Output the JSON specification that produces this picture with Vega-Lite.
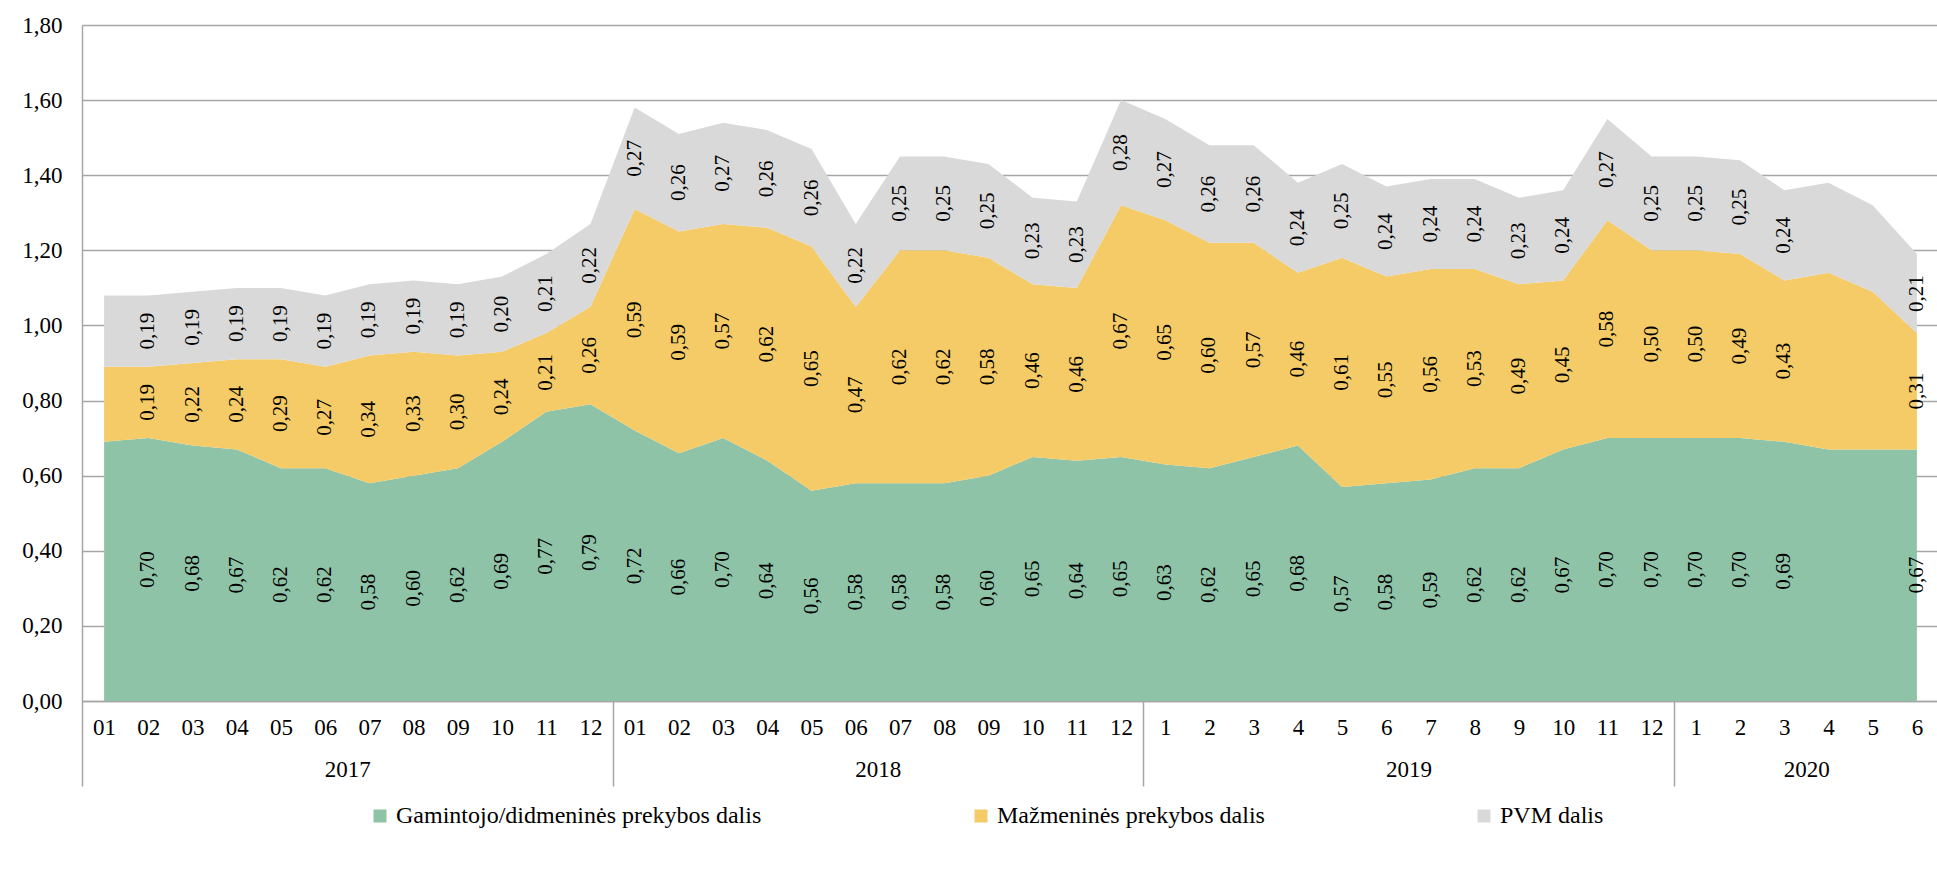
{
  "$schema": "https://vega.github.io/schema/vega-lite/v6.json",
  "width": 1857,
  "height": 676,
  "padding": {"left": 21, "top": 14, "right": 0, "bottom": 0},
  "background": "#ffffff",
  "config": {
    "font": "Liberation Serif",
    "view": {"stroke": null},
    "locale": {"number": {"decimal": ",", "thousands": " ", "grouping": [3], "currency": ["", " €"]}}
  },
  "data": {
    "values": [
      {"i": 0, "Gamintojo/didmeninės prekybos dalis": 0.69, "Mažmeninės prekybos dalis": 0.20, "PVM dalis": 0.19},
      {"i": 1, "Gamintojo/didmeninės prekybos dalis": 0.70, "Mažmeninės prekybos dalis": 0.19, "PVM dalis": 0.19},
      {"i": 2, "Gamintojo/didmeninės prekybos dalis": 0.68, "Mažmeninės prekybos dalis": 0.22, "PVM dalis": 0.19},
      {"i": 3, "Gamintojo/didmeninės prekybos dalis": 0.67, "Mažmeninės prekybos dalis": 0.24, "PVM dalis": 0.19},
      {"i": 4, "Gamintojo/didmeninės prekybos dalis": 0.62, "Mažmeninės prekybos dalis": 0.29, "PVM dalis": 0.19},
      {"i": 5, "Gamintojo/didmeninės prekybos dalis": 0.62, "Mažmeninės prekybos dalis": 0.27, "PVM dalis": 0.19},
      {"i": 6, "Gamintojo/didmeninės prekybos dalis": 0.58, "Mažmeninės prekybos dalis": 0.34, "PVM dalis": 0.19},
      {"i": 7, "Gamintojo/didmeninės prekybos dalis": 0.60, "Mažmeninės prekybos dalis": 0.33, "PVM dalis": 0.19},
      {"i": 8, "Gamintojo/didmeninės prekybos dalis": 0.62, "Mažmeninės prekybos dalis": 0.30, "PVM dalis": 0.19},
      {"i": 9, "Gamintojo/didmeninės prekybos dalis": 0.69, "Mažmeninės prekybos dalis": 0.24, "PVM dalis": 0.20},
      {"i": 10, "Gamintojo/didmeninės prekybos dalis": 0.77, "Mažmeninės prekybos dalis": 0.21, "PVM dalis": 0.21},
      {"i": 11, "Gamintojo/didmeninės prekybos dalis": 0.79, "Mažmeninės prekybos dalis": 0.26, "PVM dalis": 0.22},
      {"i": 12, "Gamintojo/didmeninės prekybos dalis": 0.72, "Mažmeninės prekybos dalis": 0.59, "PVM dalis": 0.27},
      {"i": 13, "Gamintojo/didmeninės prekybos dalis": 0.66, "Mažmeninės prekybos dalis": 0.59, "PVM dalis": 0.26},
      {"i": 14, "Gamintojo/didmeninės prekybos dalis": 0.70, "Mažmeninės prekybos dalis": 0.57, "PVM dalis": 0.27},
      {"i": 15, "Gamintojo/didmeninės prekybos dalis": 0.64, "Mažmeninės prekybos dalis": 0.62, "PVM dalis": 0.26},
      {"i": 16, "Gamintojo/didmeninės prekybos dalis": 0.56, "Mažmeninės prekybos dalis": 0.65, "PVM dalis": 0.26},
      {"i": 17, "Gamintojo/didmeninės prekybos dalis": 0.58, "Mažmeninės prekybos dalis": 0.47, "PVM dalis": 0.22},
      {"i": 18, "Gamintojo/didmeninės prekybos dalis": 0.58, "Mažmeninės prekybos dalis": 0.62, "PVM dalis": 0.25},
      {"i": 19, "Gamintojo/didmeninės prekybos dalis": 0.58, "Mažmeninės prekybos dalis": 0.62, "PVM dalis": 0.25},
      {"i": 20, "Gamintojo/didmeninės prekybos dalis": 0.60, "Mažmeninės prekybos dalis": 0.58, "PVM dalis": 0.25},
      {"i": 21, "Gamintojo/didmeninės prekybos dalis": 0.65, "Mažmeninės prekybos dalis": 0.46, "PVM dalis": 0.23},
      {"i": 22, "Gamintojo/didmeninės prekybos dalis": 0.64, "Mažmeninės prekybos dalis": 0.46, "PVM dalis": 0.23},
      {"i": 23, "Gamintojo/didmeninės prekybos dalis": 0.65, "Mažmeninės prekybos dalis": 0.67, "PVM dalis": 0.28},
      {"i": 24, "Gamintojo/didmeninės prekybos dalis": 0.63, "Mažmeninės prekybos dalis": 0.65, "PVM dalis": 0.27},
      {"i": 25, "Gamintojo/didmeninės prekybos dalis": 0.62, "Mažmeninės prekybos dalis": 0.60, "PVM dalis": 0.26},
      {"i": 26, "Gamintojo/didmeninės prekybos dalis": 0.65, "Mažmeninės prekybos dalis": 0.57, "PVM dalis": 0.26},
      {"i": 27, "Gamintojo/didmeninės prekybos dalis": 0.68, "Mažmeninės prekybos dalis": 0.46, "PVM dalis": 0.24},
      {"i": 28, "Gamintojo/didmeninės prekybos dalis": 0.57, "Mažmeninės prekybos dalis": 0.61, "PVM dalis": 0.25},
      {"i": 29, "Gamintojo/didmeninės prekybos dalis": 0.58, "Mažmeninės prekybos dalis": 0.55, "PVM dalis": 0.24},
      {"i": 30, "Gamintojo/didmeninės prekybos dalis": 0.59, "Mažmeninės prekybos dalis": 0.56, "PVM dalis": 0.24},
      {"i": 31, "Gamintojo/didmeninės prekybos dalis": 0.62, "Mažmeninės prekybos dalis": 0.53, "PVM dalis": 0.24},
      {"i": 32, "Gamintojo/didmeninės prekybos dalis": 0.62, "Mažmeninės prekybos dalis": 0.49, "PVM dalis": 0.23},
      {"i": 33, "Gamintojo/didmeninės prekybos dalis": 0.67, "Mažmeninės prekybos dalis": 0.45, "PVM dalis": 0.24},
      {"i": 34, "Gamintojo/didmeninės prekybos dalis": 0.70, "Mažmeninės prekybos dalis": 0.58, "PVM dalis": 0.27},
      {"i": 35, "Gamintojo/didmeninės prekybos dalis": 0.70, "Mažmeninės prekybos dalis": 0.50, "PVM dalis": 0.25},
      {"i": 36, "Gamintojo/didmeninės prekybos dalis": 0.70, "Mažmeninės prekybos dalis": 0.50, "PVM dalis": 0.25},
      {"i": 37, "Gamintojo/didmeninės prekybos dalis": 0.70, "Mažmeninės prekybos dalis": 0.49, "PVM dalis": 0.25},
      {"i": 38, "Gamintojo/didmeninės prekybos dalis": 0.69, "Mažmeninės prekybos dalis": 0.43, "PVM dalis": 0.24},
      {"i": 39, "Gamintojo/didmeninės prekybos dalis": 0.67, "Mažmeninės prekybos dalis": 0.47, "PVM dalis": 0.24},
      {"i": 40, "Gamintojo/didmeninės prekybos dalis": 0.67, "Mažmeninės prekybos dalis": 0.42, "PVM dalis": 0.23},
      {"i": 41, "Gamintojo/didmeninės prekybos dalis": 0.67, "Mažmeninės prekybos dalis": 0.31, "PVM dalis": 0.21}
    ]
  },
  "transform": [
    {"fold": ["Gamintojo/didmeninės prekybos dalis", "Mažmeninės prekybos dalis", "PVM dalis"], "as": ["series", "value"]}
  ],
  "resolve": {"axis": {"x": "independent", "y": "independent"}},
  "layer": [
    {
      "mark": {"type": "area", "opacity": 1},
      "encoding": {
        "x": {
          "field": "i", "type": "quantitative",
          "scale": {"domain": [-0.5, 41.5], "nice": false, "zero": false},
          "axis": {
            "orient": "bottom", "title": null, "grid": false, "ticks": false,
            "values": [0,1,2,3,4,5,6,7,8,9,10,11,12,13,14,15,16,17,18,19,20,21,22,23,24,25,26,27,28,29,30,31,32,33,34,35,36,37,38,39,40,41],
            "labelExpr": "datum.value < 24 ? ((datum.value % 12 < 9 ? '0' : '') + (datum.value % 12 + 1)) : ('' + (datum.value % 12 + 1))",
            "domain": true, "domainColor": "#a6a6a6", "domainWidth": 1.5,
            "labelPadding": 15, "labelFontSize": 23, "labelFont": "Liberation Serif", "labelColor": "#000000",
            "labelOverlap": false, "labelFlush": false
          }
        },
        "y": {
          "field": "value", "type": "quantitative", "stack": "zero",
          "scale": {"domain": [0, 1.8], "nice": false},
          "axis": {
            "title": null, "values": [0, 0.2, 0.4, 0.6, 0.8, 1.0, 1.2, 1.4, 1.6, 1.8], "format": ".2f",
            "grid": true, "gridColor": "#a6a6a6", "gridWidth": 1.3, "ticks": false,
            "domain": true, "domainColor": "#a6a6a6", "domainWidth": 1.5,
            "labelPadding": 20, "labelFontSize": 23, "labelFont": "Liberation Serif", "labelColor": "#000000"
          }
        },
        "color": {
          "field": "series", "type": "nominal",
          "sort": ["Gamintojo/didmeninės prekybos dalis", "Mažmeninės prekybos dalis", "PVM dalis"],
          "scale": {
            "domain": ["Gamintojo/didmeninės prekybos dalis", "Mažmeninės prekybos dalis", "PVM dalis"],
            "range": ["#8ec3a7", "#f4cb66", "#d9d9d9"]
          },
          "legend": {
            "title": null, "orient": "none", "direction": "horizontal",
            "legendX": 286, "legendY": 779,
            "symbolType": "square", "symbolSize": 169, "symbolStrokeWidth": 0,
            "labelFontSize": 24, "labelFont": "Liberation Serif", "labelColor": "#000000",
            "labelOffset": 4, "columnPadding": 207, "labelLimit": 600
          }
        },
        "order": {"field": "series", "sort": "ascending"}
      }
    },
    {
      "transform": [
        {"stack": "value", "groupby": ["i"], "sort": [{"field": "series", "order": "ascending"}], "as": ["v0", "v1"]},
        {"calculate": "(datum.v0 + datum.v1) / 2", "as": "mid"},
        {"filter": "datum.i != 0 && datum.i != 39 && datum.i != 40"},
        {"filter": "datum.series == 'Gamintojo/didmeninės prekybos dalis'"}
      ],
      "mark": {"type": "text", "angle": 270, "align": "center", "baseline": "middle", "fontSize": 21, "font": "Liberation Serif", "color": "#000000"},
      "encoding": {
        "x": {
          "field": "i", "type": "quantitative",
          "scale": {"domain": [-0.5, 41.5], "nice": false, "zero": false},
          "axis": {
            "orient": "bottom", "title": null, "grid": false, "labels": false,
            "values": [-0.5, 11.5, 23.5, 35.5],
            "ticks": true, "tickSize": 85, "tickColor": "#a6a6a6", "tickWidth": 1.5, "domain": false
          }
        },
        "y": {"field": "mid", "type": "quantitative", "axis": null},
        "text": {"field": "value", "type": "quantitative", "format": ".2f"}
      }
    },
    {
      "transform": [
        {"stack": "value", "groupby": ["i"], "sort": [{"field": "series", "order": "ascending"}], "as": ["v0", "v1"]},
        {"calculate": "(datum.v0 + datum.v1) / 2", "as": "mid"},
        {"filter": "datum.i != 0 && datum.i != 39 && datum.i != 40"},
        {"filter": "datum.series != 'Gamintojo/didmeninės prekybos dalis'"}
      ],
      "mark": {"type": "text", "angle": 270, "align": "center", "baseline": "middle", "fontSize": 21, "font": "Liberation Serif", "color": "#000000"},
      "encoding": {
        "x": {
          "field": "i", "type": "quantitative",
          "scale": {"domain": [-0.5, 41.5], "nice": false, "zero": false},
          "axis": {
            "orient": "bottom", "title": null, "grid": false, "ticks": false, "domain": false,
            "values": [5.5, 17.5, 29.5, 38.5],
            "labelExpr": "datum.value < 12 ? '2017' : datum.value < 24 ? '2018' : datum.value < 36 ? '2019' : '2020'",
            "labelPadding": 57, "labelFontSize": 23, "labelFont": "Liberation Serif", "labelColor": "#000000",
            "labelOverlap": false, "labelFlush": false
          }
        },
        "y": {"field": "mid", "type": "quantitative", "axis": null},
        "text": {"field": "value", "type": "quantitative", "format": ".2f"}
      }
    }
  ]
}
